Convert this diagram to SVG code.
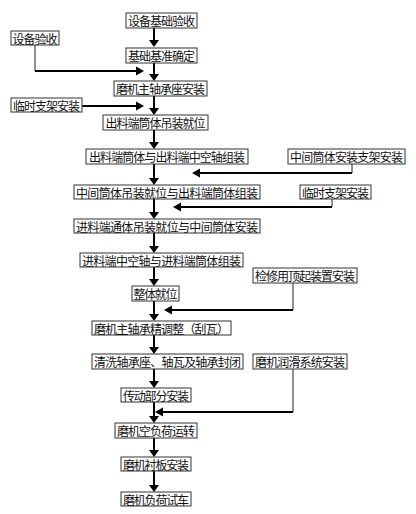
<svg xmlns="http://www.w3.org/2000/svg" width="416" height="514" viewBox="0 0 416 514">
<style>
.b{fill:#fff;stroke:#333;stroke-width:1}
.t{font-family:"Noto Sans CJK SC","Liberation Serif",serif;font-size:12px;fill:#111;text-anchor:middle;dominant-baseline:central}
.m{stroke:#000;stroke-width:2;fill:none}
.v{stroke:#222;stroke-width:1;fill:none}
.h{stroke:#000;stroke-width:2;fill:none}
.ah{fill:#000}
</style>
<rect width="416" height="514" fill="#fff"/>
<g id="connectors">
<g class="m">
<line x1="154" y1="28" x2="154" y2="41"/>
<line x1="154" y1="63" x2="154" y2="75"/>
<line x1="154" y1="96" x2="154" y2="109"/>
<line x1="154" y1="130" x2="154" y2="143"/>
<line x1="154" y1="164" x2="154" y2="179"/>
<line x1="154" y1="199" x2="154" y2="213"/>
<line x1="154" y1="233" x2="154" y2="247"/>
<line x1="154" y1="267" x2="154" y2="280"/>
<line x1="154" y1="301" x2="154" y2="315"/>
<line x1="154" y1="335" x2="154" y2="348"/>
<line x1="154" y1="369" x2="154" y2="382"/>
<line x1="154" y1="402" x2="154" y2="417"/>
<line x1="154" y1="438" x2="154" y2="451"/>
<line x1="154" y1="471" x2="154" y2="486"/>
</g>
<g class="ah">
<polygon points="149,40 159,40 154,47"/>
<polygon points="149,74 159,74 154,81"/>
<polygon points="149,108 159,108 154,115"/>
<polygon points="149,142 159,142 154,149"/>
<polygon points="149,178 159,178 154,185"/>
<polygon points="149,212 159,212 154,219"/>
<polygon points="149,246 159,246 154,253"/>
<polygon points="149,279 159,279 154,286"/>
<polygon points="149,314 159,314 154,321"/>
<polygon points="149,347 159,347 154,354"/>
<polygon points="149,381 159,381 154,388"/>
<polygon points="149,416 159,416 154,423"/>
<polygon points="149,450 159,450 154,457"/>
<polygon points="149,485 159,485 154,492"/>
</g>
<polyline class="v" points="35,45 35,71"/>
<line class="h" x1="35" y1="71" x2="137" y2="71"/>
<polygon class="ah" points="136,66.5 136,75.5 144,71"/>
<line class="h" x1="82" y1="106" x2="137" y2="106"/>
<polygon class="ah" points="136,101.5 136,110.5 144,106"/>
<polyline class="v" points="352,164 352,173"/>
<line class="h" x1="352" y1="173" x2="199" y2="173"/>
<polygon class="ah" points="200,168.5 200,177.5 192,173"/>
<polyline class="v" points="332,199 332,207"/>
<line class="h" x1="332" y1="207" x2="180" y2="207"/>
<polygon class="ah" points="181,202.5 181,211.5 173,207"/>
<polyline class="v" points="293,283 293,310"/>
<line class="h" x1="293" y1="310" x2="171" y2="310"/>
<polygon class="ah" points="172,305.5 172,314.5 164,310"/>
<polyline class="v" points="293,369 293,412"/>
<line class="h" x1="293" y1="412" x2="162" y2="412"/>
<polygon class="ah" points="163,407.5 163,416.5 155,412"/>
</g>
<g id="n1"><rect class="b" x="126" y="13" width="71" height="15"/><text class="t" x="161.5" y="20.5" textLength="67" lengthAdjust="spacing">设备基础验收</text></g>
<g id="n2"><rect class="b" x="11" y="31" width="48" height="14"/><text class="t" x="35" y="38" textLength="45" lengthAdjust="spacing">设备验收</text></g>
<g id="n3"><rect class="b" x="126" y="48" width="71" height="15"/><text class="t" x="161.5" y="55.5" textLength="67" lengthAdjust="spacing">基础基准确定</text></g>
<g id="n4"><rect class="b" x="114" y="81" width="93" height="15"/><text class="t" x="160.5" y="88.5" textLength="89" lengthAdjust="spacing">磨机主轴承座安装</text></g>
<g id="n5"><rect class="b" x="11" y="98" width="71" height="14"/><text class="t" x="46.5" y="105" textLength="67" lengthAdjust="spacing">临时支架安装</text></g>
<g id="n6"><rect class="b" x="103" y="115" width="105" height="15"/><text class="t" x="155.5" y="122.5" textLength="100" lengthAdjust="spacing">出料端筒体吊装就位</text></g>
<g id="n7"><rect class="b" x="86" y="149" width="162" height="15"/><text class="t" x="167" y="156.5" textLength="156" lengthAdjust="spacing">出料端筒体与出料端中空轴组装</text></g>
<g id="n8"><rect class="b" x="288" y="149" width="117" height="15"/><text class="t" x="346.5" y="156.5" textLength="113" lengthAdjust="spacing">中间筒体安装支架安装</text></g>
<g id="n9"><rect class="b" x="74" y="185" width="186" height="14"/><text class="t" x="167" y="192" textLength="182" lengthAdjust="spacing">中间筒体吊装就位与出料端筒体组装</text></g>
<g id="n10"><rect class="b" x="300" y="185" width="71" height="14"/><text class="t" x="335.5" y="192" textLength="67" lengthAdjust="spacing">临时支架安装</text></g>
<g id="n11"><rect class="b" x="74" y="219" width="186" height="14"/><text class="t" x="167" y="226" textLength="182" lengthAdjust="spacing">进料端通体吊装就位与中间筒体安装</text></g>
<g id="n12"><rect class="b" x="80" y="253" width="163" height="14"/><text class="t" x="161.5" y="260" textLength="159" lengthAdjust="spacing">进料端中空轴与进料端筒体组装</text></g>
<g id="n13"><rect class="b" x="253" y="268" width="104" height="15"/><text class="t" x="305" y="275.5" textLength="100" lengthAdjust="spacing">检修用顶起装置安装</text></g>
<g id="n14"><rect class="b" x="132" y="286" width="47" height="15"/><text class="t" x="155.5" y="293.5" textLength="44" lengthAdjust="spacing">整体就位</text></g>
<g id="n15"><rect class="b" x="92" y="321" width="139" height="14"/><text class="t" x="161.5" y="328" textLength="135" lengthAdjust="spacing">磨机主轴承精调整（刮瓦）</text></g>
<g id="n16"><rect class="b" x="92" y="354" width="151" height="15"/><text class="t" x="167.5" y="361.5" textLength="147" lengthAdjust="spacing">清洗轴承座、轴瓦及轴承封闭</text></g>
<g id="n17"><rect class="b" x="253" y="354" width="94" height="15"/><text class="t" x="300" y="361.5" textLength="90" lengthAdjust="spacing">磨机润滑系统安装</text></g>
<g id="n18"><rect class="b" x="121" y="388" width="70" height="14"/><text class="t" x="156" y="395" textLength="66" lengthAdjust="spacing">传动部分安装</text></g>
<g id="n19"><rect class="b" x="115" y="423" width="82" height="15"/><text class="t" x="156" y="430.5" textLength="78" lengthAdjust="spacing">磨机空负荷运转</text></g>
<g id="n20"><rect class="b" x="121" y="457" width="70" height="14"/><text class="t" x="156" y="464" textLength="66" lengthAdjust="spacing">磨机衬板安装</text></g>
<g id="n21"><rect class="b" x="121" y="492" width="70" height="14"/><text class="t" x="156" y="499" textLength="66" lengthAdjust="spacing">磨机负荷试车</text></g>
</svg>
